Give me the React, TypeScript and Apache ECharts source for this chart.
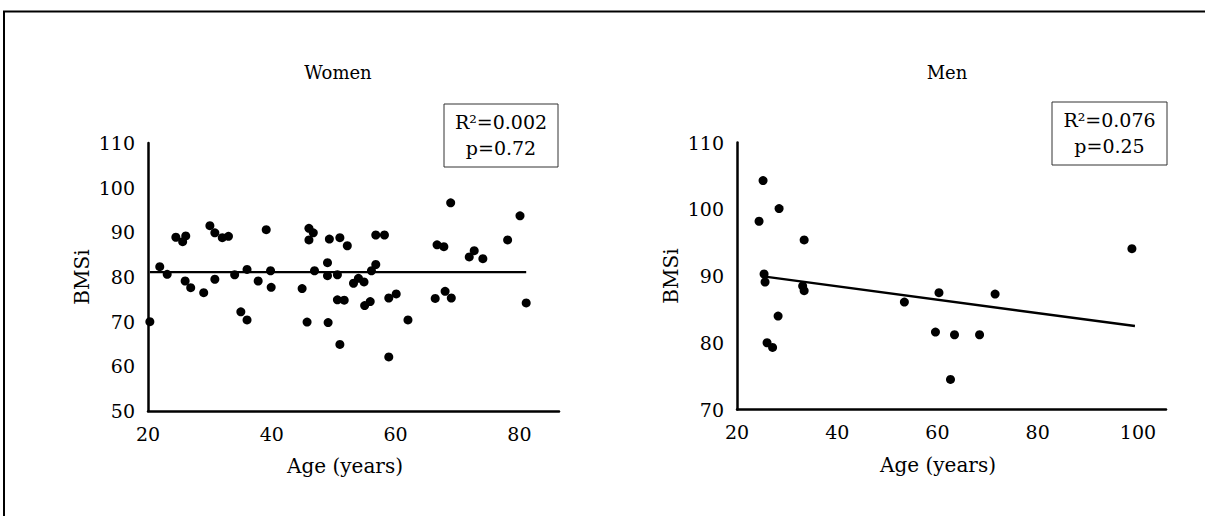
import React, { useEffect, useRef } from "react";
import * as echarts from "echarts";

const FONT = "DejaVu Serif";

// Women: age (years) and BMSi
const womenAge = [20.3, 21.9, 23.1, 24.5, 25.6, 26.1, 26.0, 26.9, 29.0, 30.0, 30.8, 32.0, 33.0, 30.8, 34.0, 35.0, 36.0, 36.0, 37.8, 39.1, 39.8, 39.9, 44.9, 45.7, 46.0, 46.0, 46.7, 46.9, 49.0, 49.0, 50.6, 49.3, 51.0, 52.2, 50.6, 51.7, 49.1, 51.0, 53.2, 54.0, 54.9, 56.1, 56.8, 55.0, 55.9, 56.8, 58.2, 58.9, 60.1, 58.9, 62.0, 66.4, 66.7, 67.8, 68.0, 69.0, 68.9, 71.9, 72.7, 74.1, 78.1, 80.1, 81.1];
const womenBMSi = [70.0, 82.3, 80.6, 88.9, 87.9, 89.2, 79.1, 77.6, 76.5, 91.5, 89.9, 88.8, 89.1, 79.5, 80.5, 72.2, 70.4, 81.7, 79.1, 90.6, 81.4, 77.7, 77.4, 69.9, 90.9, 88.3, 89.9, 81.4, 83.2, 80.3, 80.5, 88.5, 88.8, 87.0, 74.9, 74.8, 69.8, 64.9, 78.6, 79.7, 78.9, 81.4, 82.8, 73.6, 74.5, 89.4, 89.4, 75.3, 76.2, 62.1, 70.4, 75.2, 87.2, 86.8, 76.8, 75.3, 96.6, 84.5, 85.9, 84.1, 88.3, 93.7, 74.2];
const womenTrendAge = [20.3, 81.1];
const womenTrendBMSi = [81.1, 81.1];

// Men: age (years) and BMSi
const menAge = [25.2, 24.4, 28.4, 33.4, 25.4, 25.6, 33.1, 33.4, 28.2, 26.0, 27.1, 53.4, 60.3, 71.5, 59.6, 63.4, 68.4, 62.6, 98.8];
const menBMSi = [104.3, 98.2, 100.1, 95.4, 90.3, 89.1, 88.5, 87.8, 84.0, 80.0, 79.3, 86.1, 87.5, 87.3, 81.6, 81.2, 81.2, 74.5, 94.1];
const menTrendAge = [25.6, 99.4];
const menTrendBMSi = [89.9, 82.5];

const womenXLabels = [20, 40, 60, 80];
const menXLabels = [20, 40, 60, 80, 100];

const titles = ["Women", "Men"];
const womenStats = ["R²=0.002", "p=0.72"];
const menStats = ["R²=0.076", "p=0.25"];

const zip = (a: number[], b: number[]) => a.map((v, i) => [v, b[i]]);

function xAxis(gridIndex: number, max: number, labels: number[], pad: number) {
  return {
    type: "value",
    gridIndex,
    min: 20,
    max,
    interval: 20,
    name: "Age (years)",
    nameLocation: "middle",
    nameGap: 45,
    nameTextStyle: { fontFamily: FONT, fontSize: 20, color: "#000", padding: [0, pad, 0, 0] },
    axisLine: { show: true, lineStyle: { color: "#000", width: 2.5 } },
    axisTick: { show: false },
    splitLine: { show: false },
    axisLabel: { customValues: labels, fontFamily: FONT, fontSize: 19, color: "#000", margin: 13 },
  };
}

function yAxis(gridIndex: number, min: number) {
  return {
    type: "value",
    gridIndex,
    min,
    max: 110,
    interval: 10,
    name: "BMSi",
    nameLocation: "middle",
    nameGap: 56,
    nameTextStyle: { fontFamily: FONT, fontSize: 20, color: "#000" },
    axisLine: { show: true, lineStyle: { color: "#000", width: 2.5 } },
    axisTick: { show: false },
    splitLine: { show: false },
    axisLabel: { fontFamily: FONT, fontSize: 19, color: "#000", margin: 13 },
  };
}

function statBox(x: number, y: number, w: number, h: number, lines: string[]) {
  return {
    type: "group",
    children: [
      { type: "rect", shape: { x, y, width: w, height: h }, style: { fill: "#fff", stroke: "#333", lineWidth: 1 } },
      { type: "text", x: x + w / 2, y: y + 18, style: { text: lines[0], fontFamily: FONT, fontSize: 19, fill: "#000", align: "center", verticalAlign: "middle" } },
      { type: "text", x: x + w / 2, y: y + 44, style: { text: lines[1], fontFamily: FONT, fontSize: 19, fill: "#000", align: "center", verticalAlign: "middle" } },
    ],
  };
}

export default function App() {
  const ref = useRef<HTMLDivElement>(null);
  useEffect(() => {
    const chart = echarts.init(ref.current!, null, { renderer: "svg" });
    chart.setOption({
      animation: false,
      backgroundColor: "#fff",
      grid: [
        { left: 148, top: 143, width: 411, height: 268 },
        { left: 737, top: 142.5, width: 429, height: 267 },
      ],
      xAxis: [xAxis(0, 86.4, womenXLabels, 17), xAxis(1, 105.6, menXLabels, 27)],
      yAxis: [yAxis(0, 50), yAxis(1, 70)],
      series: [
        { type: "scatter", xAxisIndex: 0, yAxisIndex: 0, data: zip(womenAge, womenBMSi), symbolSize: 9, itemStyle: { color: "#000", opacity: 1 } },
        { type: "line", xAxisIndex: 0, yAxisIndex: 0, data: zip(womenTrendAge, womenTrendBMSi), symbol: "none", lineStyle: { color: "#000", width: 2.4 } },
        { type: "scatter", xAxisIndex: 1, yAxisIndex: 1, data: zip(menAge, menBMSi), symbolSize: 9, itemStyle: { color: "#000", opacity: 1 } },
        { type: "line", xAxisIndex: 1, yAxisIndex: 1, data: zip(menTrendAge, menTrendBMSi), symbol: "none", lineStyle: { color: "#000", width: 2.4 } },
      ],
      graphic: [
        { type: "rect", shape: { x: 4, y: 11.5, width: 1400, height: 700 }, style: { fill: "none", stroke: "#000", lineWidth: 2 } },
        { type: "text", x: 338, y: 72, style: { text: titles[0], fontFamily: FONT, fontSize: 18, fill: "#000", align: "center", verticalAlign: "middle" } },
        { type: "text", x: 947, y: 72, style: { text: titles[1], fontFamily: FONT, fontSize: 18, fill: "#000", align: "center", verticalAlign: "middle" } },
        statBox(444, 104, 114, 63, womenStats),
        statBox(1052, 102, 115, 63, menStats),
      ],
    });
    return () => chart.dispose();
  }, []);
  return (
    <div
      ref={ref}
      style={{ position: "absolute", left: 0, top: 0, width: 1205, height: 516, background: "#fff" }}
    />
  );
}
